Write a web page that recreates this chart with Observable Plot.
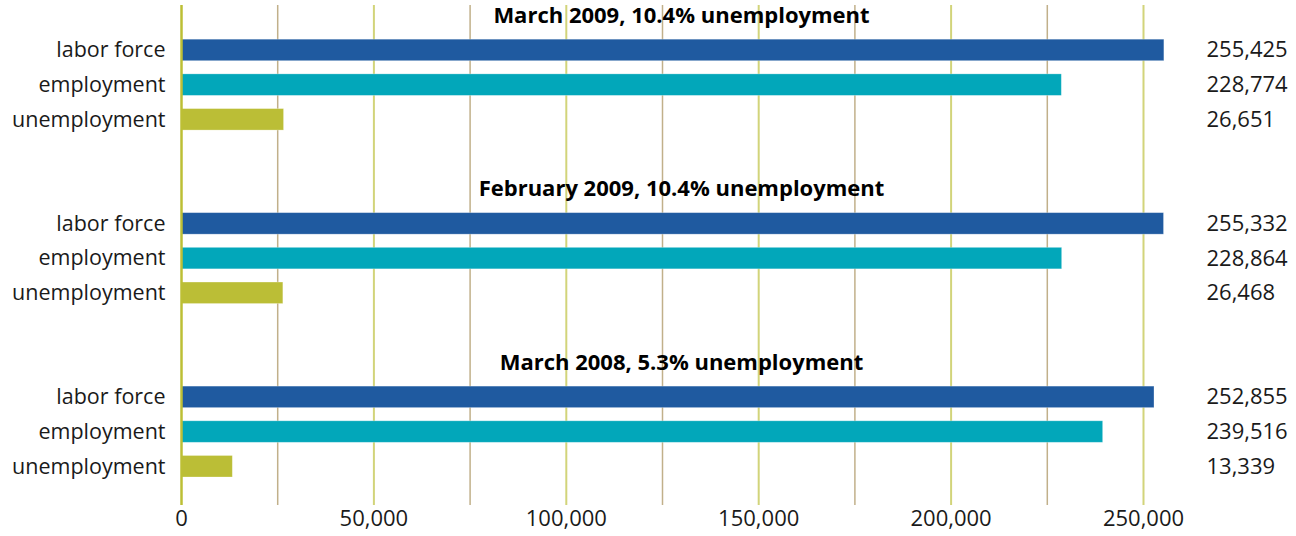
<!DOCTYPE html>
<html>
<head>
<meta charset="utf-8">
<script src="https://cdn.jsdelivr.net/npm/d3@7"></script>
<script src="https://cdn.jsdelivr.net/npm/@observablehq/plot@0.6"></script>
<style>
  html, body { margin: 0; padding: 0; background: #fff; }
  #chart svg { display: block; }
</style>
</head>
<body>
<div id="chart"></div>
<script>
const periods = ["March 2009, 10.4% unemployment", "February 2009, 10.4% unemployment", "March 2008, 5.3% unemployment"];
const measures = ["labor force", "employment", "unemployment"];
const laborForce = [255425, 255332, 252855];
const employment = [228774, 228864, 239516];
const unemployment = [26651, 26468, 13339];
const xTicks = [0, 50000, 100000, 150000, 200000, 250000];
const gridTicks = [25000, 50000, 75000, 100000, 125000, 150000, 175000, 200000, 225000, 250000];
const colors = ["#1f5aa0", "#02a7ba", "#bbbe36"];

const seriesValues = [laborForce, employment, unemployment];
const rows = [];
const titles = [];
const bars = [];
periods.forEach((p, i) => {
  if (i > 0) rows.push("gap" + i);
  rows.push("title" + i);
  titles.push({row: "title" + i, text: p});
  measures.forEach((m, j) => {
    const key = i + "|" + m;
    rows.push(key);
    bars.push({row: key, measure: m, value: seriesValues[j][i]});
  });
});

const fmt = d3.format(",");
const font = "'Open Sans', 'Noto Sans', sans-serif";

const chart = Plot.plot({
  width: 1296,
  height: 536,
  marginLeft: 181,
  marginRight: 153,
  marginTop: 5,
  marginBottom: 31,
  style: {fontFamily: font, fontSize: "20px", color: "#1a1a1a", background: "#fff"},
  x: {domain: [0, 250000], ticks: xTicks, tickFormat: fmt},
  y: {type: "band", domain: rows, range: [4.5, 477], paddingInner: 0.38, paddingOuter: 0, round: false, axis: null},
  color: {domain: measures, range: colors},
  marks: [
    Plot.ruleX(gridTicks, {stroke: d => d % 50000 === 0 ? "#d2d47a" : "#c1b08a", strokeWidth: d => d % 50000 === 0 ? 2 : 1.5}),
    Plot.barX(bars, {x: "value", y: "row", fill: "measure", stroke: "#ffffff", strokeOpacity: 0.35, strokeWidth: 0.8}),
    Plot.ruleX([0], {stroke: "#bcbf35", strokeWidth: 2.5}),
    Plot.axisX({ticks: xTicks, tickFormat: fmt, tickSize: 0, tickPadding: 5, fontSize: 22, label: null}),
    Plot.text(bars, {x: 0, y: "row", text: "measure", textAnchor: "end", dx: -16, fontSize: 21.5, fill: "#1a1a1a"}),
    Plot.text(bars, {x: 250000, y: "row", text: d => fmt(d.value), textAnchor: "start", dx: 63, fontSize: 22, fill: "#1a1a1a"}),
    Plot.text(titles, {frameAnchor: "middle", y: "row", text: "text", dx: 19, fontSize: 22, fontWeight: "bold", fill: "#000"})
  ]
});
document.getElementById("chart").appendChild(chart);
</script>
</body>
</html>
